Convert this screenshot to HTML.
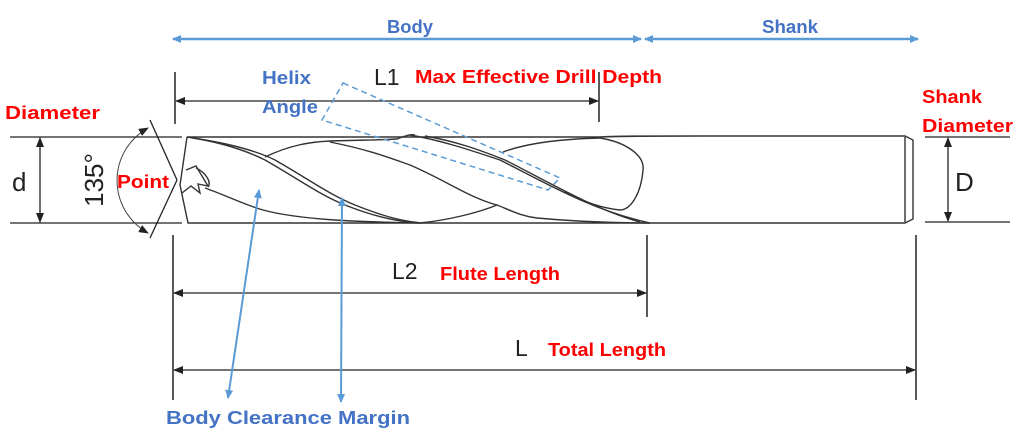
<!DOCTYPE html>
<html><head><meta charset="utf-8"><style>
html,body{margin:0;padding:0;background:#fff;}
svg{display:block;font-family:"Liberation Sans",sans-serif;}
.b{font-weight:bold;}
</style></head><body>
<svg width="1024" height="442" viewBox="0 0 1024 442">
<defs>
<marker id="ak" markerWidth="10" markerHeight="8" refX="9" refY="4" orient="auto-start-reverse" markerUnits="userSpaceOnUse"><path d="M0,0 L10,4 L0,8 Z" fill="#222"/></marker>
<marker id="ab" markerWidth="9" markerHeight="8" refX="8" refY="4" orient="auto-start-reverse" markerUnits="userSpaceOnUse"><path d="M0,0 L9,4 L0,8 Z" fill="#5b9bd5"/></marker>
</defs>
<!-- Body / Shank -->
<line x1="173" y1="39" x2="641" y2="39" stroke="#5b9bd5" stroke-width="2.5" marker-start="url(#ab)" marker-end="url(#ab)"/>
<line x1="645" y1="39" x2="918" y2="39" stroke="#5b9bd5" stroke-width="2.5" marker-start="url(#ab)" marker-end="url(#ab)"/>
<text x="387" y="33" fill="#4472c4" class="b" font-size="18" textLength="46" lengthAdjust="spacingAndGlyphs">Body</text>
<text x="762" y="33" fill="#4472c4" class="b" font-size="18" textLength="56" lengthAdjust="spacingAndGlyphs">Shank</text>

<!-- L1 -->
<line x1="175" y1="72" x2="175" y2="124" stroke="#222" stroke-width="1.5"/>
<line x1="599" y1="72" x2="599" y2="122" stroke="#222" stroke-width="1.5"/>
<line x1="176" y1="101" x2="598" y2="101" stroke="#222" stroke-width="1.3" marker-start="url(#ak)" marker-end="url(#ak)"/>
<text x="374" y="85" font-size="23" fill="#222">L1</text>
<text x="415" y="83" font-size="18" fill="#f00" class="b" textLength="247" lengthAdjust="spacingAndGlyphs">Max Effective Drill Depth</text>
<text x="262" y="84" font-size="18" fill="#4472c4" class="b" textLength="49" lengthAdjust="spacingAndGlyphs">Helix</text>
<text x="262" y="113" font-size="18" fill="#4472c4" class="b" textLength="56" lengthAdjust="spacingAndGlyphs">Angle</text>
<text x="5" y="119" font-size="18" fill="#f00" class="b" textLength="95" lengthAdjust="spacingAndGlyphs">Diameter</text>
<text x="922" y="103" font-size="18" fill="#f00" class="b" textLength="60" lengthAdjust="spacingAndGlyphs">Shank</text>
<text x="922" y="132" font-size="18" fill="#f00" class="b" textLength="91" lengthAdjust="spacingAndGlyphs">Diameter</text>

<!-- d dim -->
<line x1="10" y1="137" x2="182" y2="137" stroke="#222" stroke-width="1.3"/>
<line x1="10" y1="223" x2="182" y2="223" stroke="#222" stroke-width="1.3"/>
<line x1="40" y1="138" x2="40" y2="222" stroke="#222" stroke-width="1.3" marker-start="url(#ak)" marker-end="url(#ak)"/>
<text x="12" y="191" font-size="26" fill="#222">d</text>
<!-- 135 -->
<line x1="150" y1="120" x2="177" y2="180" stroke="#222" stroke-width="1.3"/>
<line x1="177" y1="180" x2="150" y2="238" stroke="#222" stroke-width="1.3"/>
<path d="M148,128 A60,60 0 0 0 148,233" fill="none" stroke="#444" stroke-width="1" marker-start="url(#ak)" marker-end="url(#ak)"/>
<text transform="translate(103,180) rotate(-90)" font-size="26" fill="#222" text-anchor="middle">135°</text>
<text x="117" y="188" font-size="18" fill="#f00" class="b" textLength="52" lengthAdjust="spacingAndGlyphs">Point</text>

<!-- drill outline -->
<g fill="none" stroke="#333" stroke-width="1.4">
<path d="M187,137 L600,137 C620,136 640,136 700,136 L905,136 L913,140 L913,219 L905,223 L700,223 L188,223 L180,185 L187,137"/>
<line x1="905" y1="137" x2="905" y2="222"/>
<path d="M186,170 L196,166 L208,186 L198,184 L200,193 L191,186 L182,193"/>
<path d="M196,168 C205,172 212,182 208,187"/>
<!-- band 1 -->
<path d="M187,137 C220,142 245,150 265,160 C300,180 320,195 345,205 C375,217 400,222 420,223"/>
<path d="M193,138 C226,143 255,150 275,160 C310,180 330,195 355,205 C385,217 405,222 425,223"/>
<!-- lower face -->
<path d="M205,188 C225,195 245,205 263,210 C300,220 360,222 420,223"/>
<!-- land 1 -->
<path d="M265,157 C290,145 310,142 330,141 C360,140 385,140 397,139 C405,136 410,134 415,135"/>
<!-- band 2 -->
<path d="M330,142 C370,150 390,158 410,165 C445,180 470,198 497,205"/>
<!-- land 2 bottom -->
<path d="M420,223 C450,220 480,212 497,205 C510,210 520,216 537,218 C580,222 620,223 650,223"/>
<!-- band 3 -->
<path d="M410,135 C440,140 470,150 500,160 C540,180 590,210 650,223"/>
<path d="M425,136 C455,141 480,150 505,160 C545,180 595,210 640,222"/>
<!-- land 3 top & flute end -->
<path d="M503,152 C530,142 565,139 600,138"/>
<path d="M600,138 C625,142 645,155 643,170 C641,195 630,210 620,210 C600,208 580,200 565,192"/>
</g>
<!-- helix dashed -->
<g fill="none" stroke="#5b9bd5" stroke-width="1.5" stroke-dasharray="6,4">
<path d="M343,83 L560,178 L548,190 L322,120 Z"/>
</g>

<!-- D dim -->
<line x1="925" y1="137" x2="1010" y2="137" stroke="#222" stroke-width="1.3"/>
<line x1="925" y1="222" x2="1010" y2="222" stroke="#222" stroke-width="1.3"/>
<line x1="948" y1="138" x2="948" y2="221" stroke="#222" stroke-width="1.3" marker-start="url(#ak)" marker-end="url(#ak)"/>
<text x="955" y="191" font-size="26" fill="#222">D</text>

<!-- L2 / L -->
<line x1="173" y1="235" x2="173" y2="400" stroke="#222" stroke-width="1.5"/>
<line x1="647" y1="235" x2="647" y2="317" stroke="#222" stroke-width="1.5"/>
<line x1="916" y1="235" x2="916" y2="400" stroke="#222" stroke-width="1.5"/>
<line x1="174" y1="293" x2="646" y2="293" stroke="#222" stroke-width="1.3" marker-start="url(#ak)" marker-end="url(#ak)"/>
<line x1="174" y1="370" x2="915" y2="370" stroke="#222" stroke-width="1.3" marker-start="url(#ak)" marker-end="url(#ak)"/>
<text x="392" y="279" font-size="23" fill="#222">L2</text>
<text x="440" y="280" font-size="18" fill="#f00" class="b" textLength="120" lengthAdjust="spacingAndGlyphs">Flute Length</text>
<text x="515" y="356" font-size="23" fill="#222">L</text>
<text x="548" y="356" font-size="18" fill="#f00" class="b" textLength="118" lengthAdjust="spacingAndGlyphs">Total Length</text>

<!-- blue arrows -->
<line x1="228" y1="398" x2="259" y2="190" stroke="#5b9bd5" stroke-width="2" marker-start="url(#ab)" marker-end="url(#ab)"/>
<line x1="341" y1="402" x2="342" y2="198" stroke="#5b9bd5" stroke-width="2" marker-start="url(#ab)" marker-end="url(#ab)"/>
<text x="166" y="424" font-size="18" fill="#4472c4" class="b" textLength="244" lengthAdjust="spacingAndGlyphs">Body Clearance Margin</text>
</svg>
</body></html>
